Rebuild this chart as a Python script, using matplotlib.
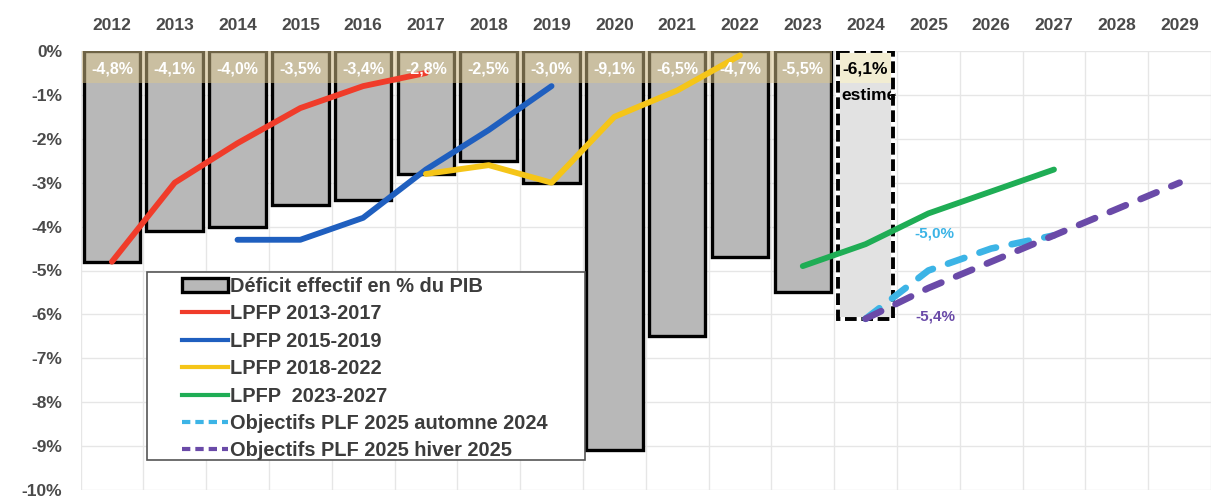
import numpy as np
import matplotlib
matplotlib.use("Agg")
import matplotlib.pyplot as plt
from matplotlib.patches import Rectangle, Patch
from matplotlib.lines import Line2D

plt.rcParams['font.family'] = ['Liberation Sans', 'DejaVu Sans']

# ---- data -------------------------------------------------------------
years = list(range(2012, 2030))
deficit_years = list(range(2012, 2025))
deficit = [-4.8, -4.1, -4.0, -3.5, -3.4, -2.8, -2.5, -3.0, -9.1, -6.5, -4.7, -5.5, -6.1]

lpfp_2013_years = [2012, 2013, 2014, 2015, 2016, 2017]
lpfp_2013 = [-4.8, -3.0, -2.1, -1.3, -0.8, -0.5]

lpfp_2015_years = [2014, 2015, 2016, 2017, 2018, 2019]
lpfp_2015 = [-4.3, -4.3, -3.8, -2.7, -1.8, -0.8]

lpfp_2018_years = [2017, 2018, 2019, 2020, 2021, 2022]
lpfp_2018 = [-2.8, -2.6, -3.0, -1.5, -0.9, -0.1]

lpfp_2023_years = [2023, 2024, 2025, 2026, 2027]
lpfp_2023 = [-4.9, -4.4, -3.7, -3.2, -2.7]

plf_autumn_years = [2024, 2025, 2026, 2027, 2028, 2029]
plf_autumn = [-6.1, -5.0, -4.5, -4.2, -3.6, -3.0]

plf_winter_years = [2024, 2025, 2026, 2027, 2028, 2029]
plf_winter = [-6.1, -5.4, -4.8, -4.2, -3.6, -3.0]

y_ticks = list(range(-10, 1))

# ---- styling ----------------------------------------------------------
TXT = '#4a4a4a'
C_RED, C_BLUE, C_YEL, C_GRN = '#f03c2a', '#1f5fbf', '#f5c518', '#1fad55'
C_LBLUE, C_PURP = '#3cb4e6', '#6a4aa8'


def pos(yrs):
    return [y - years[0] for y in yrs]


def fmt(v):
    return f"{v:.1f}%".replace('.', ',')


W, H = 1211, 497
fig = plt.figure(figsize=(W / 100, H / 100), dpi=100)
left_px, right_px, top_px, bot_px = 80.5, 1211, 51, 490
ax = fig.add_axes([left_px / W, 1 - bot_px / H, (right_px - left_px) / W, (bot_px - top_px) / H])
ax.set_xlim(-0.5, 17.39)
ax.set_ylim(-10, 0)

for s in ax.spines.values():
    s.set_visible(False)

# axes ticks: years on top, percentages on the left
ax.xaxis.tick_top()
ax.set_xticks(range(len(years)))
ax.set_xticklabels([str(y) for y in years], fontsize=12.5, fontweight='bold', color=TXT)
ax.set_xticks(np.arange(-0.5, len(years), 1), minor=True)
ax.set_yticks(y_ticks)
ax.set_yticklabels([f"{v}%" for v in y_ticks], fontsize=12.5, fontweight='bold', color=TXT)
ax.tick_params(axis='both', which='both', length=0)
ax.tick_params(axis='x', which='major', pad=13)
ax.tick_params(axis='y', pad=13)
ax.grid(axis='x', which='minor', color='#e6e6e6', lw=1, zorder=0)
ax.grid(axis='y', which='major', color='#e6e6e6', lw=1, zorder=0)
ax.set_axisbelow(True)

# ---- bars -------------------------------------------------------------
xb = pos(deficit_years)
n_obs = len(deficit) - 1
ax.bar(xb[:n_obs], deficit[:n_obs], width=0.9, color='#b8b8b8',
       edgecolor='black', linewidth=2.4, zorder=2)

# estimated year: light bar with dashed outline
est = ax.bar(xb[-1], deficit[-1], width=0.87, color='#e2e2e2', edgecolor='none', zorder=2)[0]
band_h = 0.72
ax.add_patch(Rectangle((xb[-1] - 0.435, -band_h), 0.87, band_h, facecolor='#f2edd2',
                       edgecolor='none', zorder=2.5))
ax.bar(xb[-1], deficit[-1], width=0.87, fill=False, edgecolor='white', linewidth=2.8, zorder=4)
ax.bar(xb[-1], deficit[-1], width=0.87, fill=False, edgecolor='black', linewidth=2.8,
       linestyle=(0, (3, 1.2)), zorder=4.1)

# label band across the observed bars
ax.add_patch(Rectangle((xb[0] - 0.47, -band_h), xb[n_obs - 1] - xb[0] + 0.94, band_h,
                       facecolor='#ddc68c', alpha=0.5, edgecolor='none', zorder=3))

for x, v in zip(xb[:n_obs], deficit[:n_obs]):
    ax.text(x, -0.4, fmt(v), ha='center', va='center', color='white',
            fontsize=11.5, fontweight='bold', zorder=7)
ax.text(xb[-1], -0.4, fmt(deficit[-1]), ha='center', va='center', color='black',
        fontsize=12.5, fontweight='bold', zorder=7)
t = ax.text(xb[-1] - 0.38, -1.02, "estimé", ha='left', va='center', color='black',
            fontsize=12.5, fontweight='bold', zorder=3)
t.set_clip_path(est)

# ---- programme trajectories ------------------------------------------
lkw = dict(lw=4.2, solid_capstyle='round', solid_joinstyle='round', zorder=5)
ax.plot(pos(lpfp_2013_years), lpfp_2013, color=C_RED, **lkw)
ax.plot(pos(lpfp_2015_years), lpfp_2015, color=C_BLUE, **lkw)
ax.plot(pos(lpfp_2018_years), lpfp_2018, color=C_YEL, **lkw)
ax.plot(pos(lpfp_2023_years), lpfp_2023, color=C_GRN, **lkw)

# the autumn path runs under the winter one once both coincide
same = [a == w for a, w in zip(plf_autumn, plf_winter)]
last = max(i for i in range(1, len(same)) if not same[i]) + 1
last = last if last < len(same) and same[last] else last - 1

dkw = dict(lw=4.8, dash_capstyle='round', zorder=5.5)
ax.plot(pos(plf_autumn_years[:last + 1]), plf_autumn[:last + 1], color=C_LBLUE,
        dashes=(2.6, 2.4), **dkw)
ax.plot(pos(plf_winter_years), plf_winter, color=C_PURP, dashes=(2.6, 2.4), **dkw)

ax.text(pos([2025])[0] - 0.22, -4.15, fmt(plf_autumn[1]), color=C_LBLUE, ha='left',
        va='center', fontsize=11, fontweight='bold', zorder=7)
ax.text(pos([2025])[0] - 0.2, -6.05, fmt(plf_winter[1]), color=C_PURP, ha='left',
        va='center', fontsize=11, fontweight='bold', zorder=7)

# ---- legend -----------------------------------------------------------
def ax_frac(px, py):
    return ((px - left_px) / (right_px - left_px), (bot_px - py) / (bot_px - top_px))


x0, y0 = ax_frac(147, 460)
x1, y1 = ax_frac(585, 272)
ax.add_patch(Rectangle((x0, y0), x1 - x0, y1 - y0, transform=ax.transAxes,
                       facecolor='white', edgecolor='#555555', lw=1.2, zorder=8))

handles = [
    Patch(facecolor='#b8b8b8', edgecolor='black', linewidth=2.4),
    Line2D([], [], color=C_RED, lw=3),
    Line2D([], [], color=C_BLUE, lw=3),
    Line2D([], [], color=C_YEL, lw=3),
    Line2D([], [], color=C_GRN, lw=3),
    Line2D([], [], color=C_LBLUE, lw=3, dashes=(2, 1.2)),
    Line2D([], [], color=C_PURP, lw=3, dashes=(2, 1.2)),
]
labels = [
    "Déficit effectif en % du PIB",
    "LPFP 2013-2017",
    "LPFP 2015-2019",
    "LPFP 2018-2022",
    "LPFP  2023-2027",
    "Objectifs PLF 2025 automne 2024",
    "Objectifs PLF 2025 hiver 2025",
]
lx, ly = ax_frac(182, 277)
leg = ax.legend(handles, labels, loc='upper left', bbox_to_anchor=(lx, ly),
                frameon=False, borderpad=0, borderaxespad=0, handlelength=2.3,
                handletextpad=0.1, labelspacing=0.42,
                prop={'weight': 'bold', 'size': 14.4})
for txt in leg.get_texts():
    txt.set_color('#3c3c3c')
leg.set_zorder(9)

fig.savefig("out.png", dpi=100)
